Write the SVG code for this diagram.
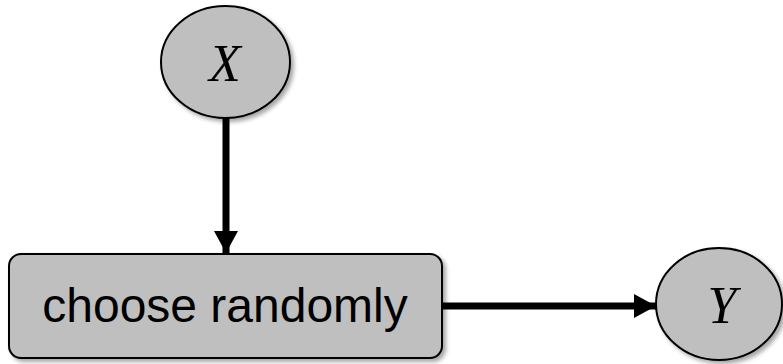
<svg xmlns="http://www.w3.org/2000/svg" width="783" height="364" viewBox="0 0 783 364">
<style>
.node{fill:#bfbfbf;stroke:#000;stroke-width:2;filter:url(#sh)}
.var{font-family:"Liberation Serif",serif;font-style:italic;font-size:52px;text-anchor:middle;fill:#000}
.lbl{font-family:"Liberation Sans",sans-serif;font-size:48px;text-anchor:middle;fill:#000}
.edge{stroke:#000;stroke-width:7;fill:none;marker-end:url(#ah)}
</style>
<defs>
<filter id="sh" x="-10%" y="-10%" width="130%" height="130%">
<feDropShadow dx="3" dy="3" stdDeviation="2" flood-color="#000" flood-opacity="0.35"/>
</filter>
<marker id="ah" markerUnits="userSpaceOnUse" markerWidth="24" markerHeight="24" viewBox="0 0 22 24" refX="22" refY="12" orient="auto">
<path d="M0,0 L22,12 L0,24 Z" fill="#000"/>
</marker>
</defs>
<g id="connectors">
<line class="edge" x1="226" y1="118" x2="226" y2="253"/>
<line class="edge" x1="442" y1="306" x2="656" y2="306"/>
</g>
<g id="nodeX">
<ellipse class="node" cx="225.5" cy="62" rx="64.5" ry="56"/>
<text class="var" x="225" y="81">X</text>
</g>
<g id="nodeChoose">
<rect class="node" x="9" y="254" width="433" height="104" rx="12" ry="12"/>
<text class="lbl" x="225" y="322">choose randomly</text>
</g>
<g id="nodeY">
<ellipse class="node" cx="719" cy="304" rx="63" ry="56"/>
<text class="var" x="722" y="323">Y</text>
</g>
</svg>
